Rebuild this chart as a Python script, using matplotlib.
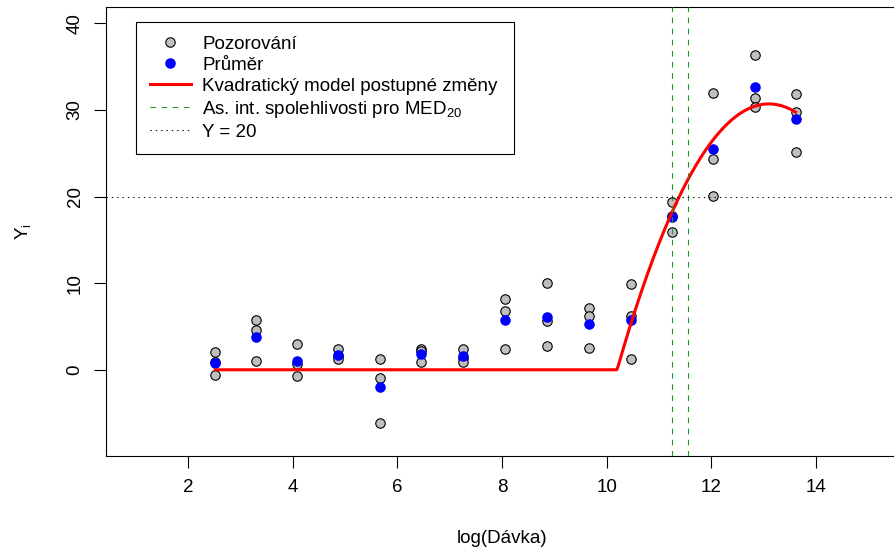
import matplotlib

matplotlib.use("Agg")
import matplotlib.pyplot as plt
import numpy as np
from matplotlib.lines import Line2D

plt.rcParams.update({
    "font.family": ["Liberation Sans", "DejaVu Sans"],
    "font.size": 13.5,
    "mathtext.default": "regular",
})

# log dose levels and the three observations measured at each
log_dose = np.array([2.52, 3.30, 4.08, 4.86, 5.66, 6.45, 7.26, 8.06,
                     8.86, 9.66, 10.46, 11.25, 12.04, 12.83, 13.61])
obs_a = np.array([2.0, 5.8, 3.0, 2.4, 1.3, 2.4, 2.4, 8.2, 10.0, 7.1, 9.9, 19.4, 32.0, 36.3, 31.8])
obs_b = np.array([0.9, 4.6, 0.7, 1.6, -1.0, 2.2, 1.4, 6.8, 5.6, 6.2, 6.2, 17.7, 24.3, 31.4, 29.8])
obs_c = np.array([-0.6, 1.0, -0.7, 1.2, -6.2, 0.9, 0.9, 2.4, 2.7, 2.5, 1.2, 15.9, 20.1, 30.3, 25.1])
obs = np.vstack([obs_a, obs_b, obs_c])
means = obs.mean(axis=0)

# piecewise quadratic model: zero below the break point, then b1*d + b2*d^2
break_x = 10.2
b1, b2 = 21.17, -3.65
# confidence interval for MED20 and the reference level
med_ci = [11.24, 11.56]
y_ref = 20

xx = np.linspace(log_dose.min(), log_dose.max(), 400)
dd = np.clip(xx - break_x, 0, None)
yy = b1 * dd + b2 * dd ** 2

W, H = 894, 551
fig = plt.figure(figsize=(W / 100, H / 100), dpi=100)
# plot region in pixels: left 106.4, right 897.6 (just off the canvas), top 6.7, bottom 455.7
ax = fig.add_axes([106.4 / W, 1 - 455.7 / H, (897.6 - 106.4) / W, (455.7 - 6.7) / H])
ax.set_xlim(0.44, 15.56)
ax.set_ylim(-9.92, 41.92)

for i in range(obs.shape[0]):
    ax.plot(log_dose, obs[i], ls="none", marker="o", ms=6.8, mfc="#bebebe",
            mec="black", mew=0.8, zorder=3)
ax.plot(log_dose, means, ls="none", marker="o", ms=7.6, mfc="blue", mec="blue",
        mew=0, zorder=4)
ax.plot(xx, yy, color="red", lw=2.2, zorder=5)
for v in med_ci:
    ax.axvline(v, color="#1f9a1f", lw=0.8, ls=(0, (5, 5)), zorder=6)
ax.axhline(y_ref, color="black", lw=0.8, ls=(0, (1.2, 3.6)), zorder=6)

ax.set_xticks([2, 4, 6, 8, 10, 12, 14])
ax.set_yticks([0, 10, 20, 30, 40])
ax.tick_params(axis="both", direction="out", length=8.4, width=0.8, color="black")
ax.tick_params(axis="x", pad=8.6)
ax.tick_params(axis="y", pad=8.0, labelrotation=90)
for lab in ax.get_yticklabels():
    lab.set_va("center")
for s in ax.spines.values():
    s.set_linewidth(0.8)

ax.set_xlabel("log(Dávka)")
ax.xaxis.set_label_coords(0.5, -0.1655)
ax.set_ylabel("Y$_{i}$")
ax.yaxis.set_label_coords(-0.093, 0.5)

handles = [
    Line2D([], [], ls="none", marker="o", ms=6.8, mfc="#bebebe", mec="black", mew=0.8),
    Line2D([], [], ls="none", marker="o", ms=7.6, mfc="blue", mec="blue", mew=0),
    Line2D([], [], color="red", lw=2.2),
    Line2D([], [], color="#1f9a1f", lw=0.8, ls=(0, (5, 5))),
    Line2D([], [], color="black", lw=0.8, ls=(0, (1.2, 3.6))),
]
labels = ["Pozorování", "Průměr", "Kvadratický model postupné změny",
          "As. int. spolehlivosti pro MED$_{20}$", "Y = 20"]
leg = ax.legend(handles, labels, loc="upper left",
                bbox_to_anchor=(136 / W, 1 - 155 / H, (514 - 136) / W, 133 / H),
                bbox_transform=fig.transFigure, mode="expand", borderaxespad=0,
                fancybox=False, framealpha=1, edgecolor="black", borderpad=0.72,
                handlelength=2.2, handletextpad=0.6, labelspacing=0.21)
leg.get_frame().set_linewidth(0.8)
leg.set_zorder(10)

fig.savefig("out.png", dpi=100)
